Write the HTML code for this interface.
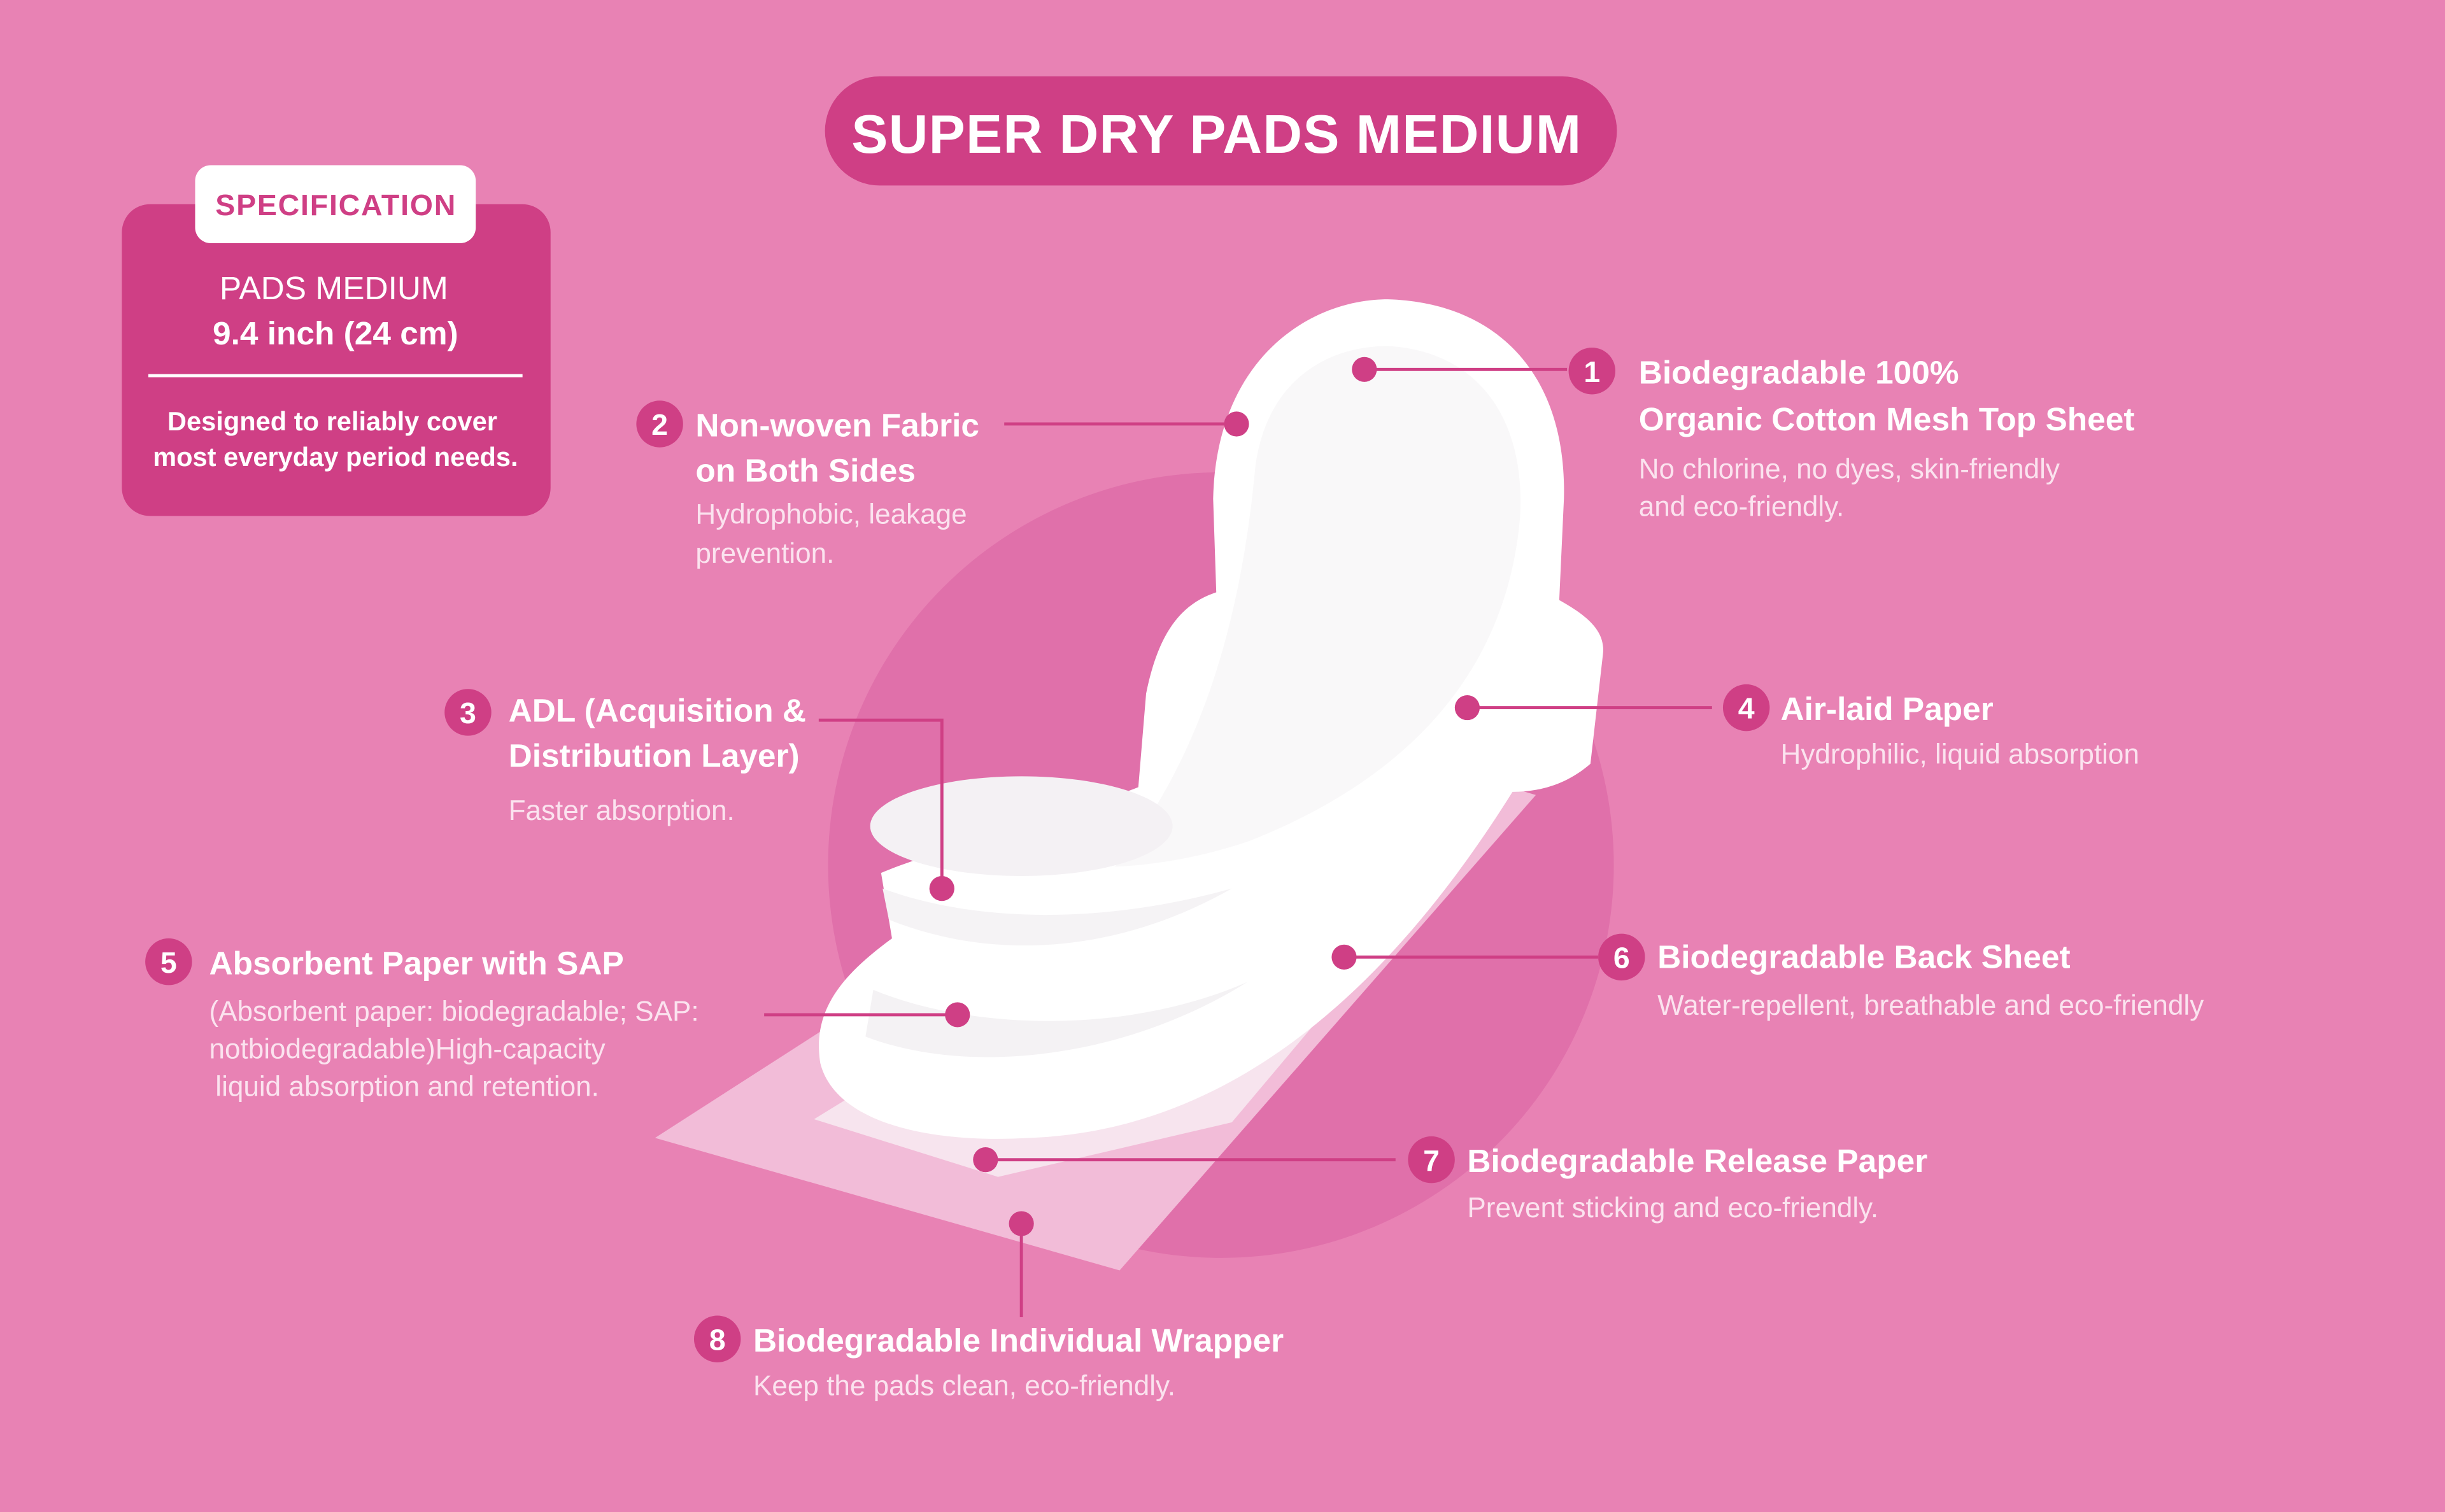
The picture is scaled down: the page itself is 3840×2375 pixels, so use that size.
<!DOCTYPE html>
<html><head><meta charset="utf-8"><style>
html,body{margin:0;padding:0;background:#e882b4;}
svg{display:block;}
text{font-family:"Liberation Sans",sans-serif;}
.h{font-weight:bold;fill:#fff;font-size:21px;}
.d{fill:#fbe3ef;font-size:18px;}
.n{font-weight:bold;fill:#fff;font-size:19px;text-anchor:middle;}
</style></head><body>
<svg width="3840" height="2375" viewBox="0 0 1568 970" xmlns="http://www.w3.org/2000/svg">
<rect width="1568" height="970" fill="#e882b4"/>
<circle cx="783" cy="555" r="252" fill="#e070aa"/>
<!-- title -->
<rect x="529" y="49" width="508" height="70" rx="35" fill="#cf3f85"/>
<text x="780" y="98" text-anchor="middle" font-weight="bold" font-size="35" fill="#fff" textLength="468">SUPER DRY PADS MEDIUM</text>
<!-- spec box -->
<rect x="78" y="131" width="275" height="200" rx="18" fill="#cf3f85"/>
<rect x="125" y="106" width="180" height="50" rx="10" fill="#fff"/>
<text x="215" y="138" text-anchor="middle" font-weight="bold" font-size="19" fill="#cf3f85" textLength="154">SPECIFICATION</text>
<text x="214" y="192" text-anchor="middle" font-size="21" fill="#fff">PADS MEDIUM</text>
<text x="215" y="221" text-anchor="middle" font-size="21" fill="#fff" font-weight="bold">9.4 inch (24 cm)</text>
<rect x="95" y="240" width="240" height="2" fill="#fff"/>
<text x="213" y="276" text-anchor="middle" font-size="17" fill="#fff" font-weight="bold">Designed to reliably cover</text>
<text x="215" y="299" text-anchor="middle" font-size="17" fill="#fff" font-weight="bold">most everyday period needs.</text>
<!-- wrapper -->
<path d="M420,730 L560,640 L760,560 L968,505 L985,510 L718,815 Z" fill="#f2bcd8"/>
<path d="M522,718 L600,670 L880,560 L950,515 L965,512 L790,720 L640,755 Z" fill="#f7e4ee"/>
<!-- pad -->
<path d="M778,320 C780,230 840,192 890,192 C960,194 1005,240 1003,320 L1000,385 C1018,395 1030,405 1028,420 L1020,490 C1005,503 988,508 970,508 C900,620 800,725 660,730 C590,734 535,718 526,682 C520,645 545,622 572,602 L565,560 C600,545 680,525 730,505 L735,445 C742,410 755,388 780,380 Z" fill="#ffffff"/>
<path d="M805,300 C812,245 850,222 890,222 C945,225 978,265 975,330 C968,420 915,495 800,540 C770,550 740,555 715,556 C750,510 792,440 805,300 Z" fill="#f9f8f9"/>
<ellipse cx="655" cy="530" rx="97" ry="32" fill="#f4f1f4"/>
<path d="M566,570 C620,590 700,595 790,570 C720,610 640,618 570,590 Z" fill="#f5f3f5"/>
<path d="M560,635 C620,660 720,665 800,630 C720,680 620,690 555,665 Z" fill="#f4f2f4"/>
<!-- connectors -->
<g stroke="#cf3f85" stroke-width="2" fill="none">
<path d="M875,237 H1005"/><path d="M644,272 H793"/><path d="M525,462 H604 V570"/>
<path d="M941,454 H1098"/><path d="M490,651 H614"/><path d="M862,614 H1025"/>
<path d="M632,744 H895"/><path d="M655,785 V845"/>
</g>
<g fill="#cf3f85">
<circle cx="875" cy="237" r="8"/><circle cx="793" cy="272" r="8"/><circle cx="604" cy="570" r="8"/>
<circle cx="941" cy="454" r="8"/><circle cx="614" cy="651" r="8"/><circle cx="862" cy="614" r="8"/>
<circle cx="632" cy="744" r="8"/><circle cx="655" cy="785" r="8"/>
<circle cx="1021" cy="238" r="15"/><circle cx="423" cy="272" r="15"/><circle cx="300" cy="457" r="15"/>
<circle cx="1120" cy="454" r="15"/><circle cx="108" cy="617" r="15"/><circle cx="1040" cy="614" r="15"/>
<circle cx="918" cy="744" r="15"/><circle cx="460" cy="859" r="15"/>
</g>
<text class="n" x="1021" y="245">1</text><text class="n" x="423" y="279">2</text><text class="n" x="300" y="464">3</text>
<text class="n" x="1120" y="461">4</text><text class="n" x="108" y="624">5</text><text class="n" x="1040" y="621">6</text>
<text class="n" x="918" y="751">7</text><text class="n" x="460" y="866">8</text>
<!-- labels -->
<text class="h" x="1051" y="246">Biodegradable 100%</text>
<text class="h" x="1051" y="276">Organic Cotton Mesh Top Sheet</text>
<text class="d" x="1051" y="307">No chlorine, no dyes, skin-friendly</text>
<text class="d" x="1051" y="331">and eco-friendly.</text>
<text class="h" x="446" y="280">Non-woven Fabric</text>
<text class="h" x="446" y="309">on Both Sides</text>
<text class="d" x="446" y="336">Hydrophobic, leakage</text>
<text class="d" x="446" y="361">prevention.</text>
<text class="h" x="326" y="463">ADL (Acquisition &amp;</text>
<text class="h" x="326" y="492">Distribution Layer)</text>
<text class="d" x="326" y="526">Faster absorption.</text>
<text class="h" x="1142" y="462">Air-laid Paper</text>
<text class="d" x="1142" y="490">Hydrophilic, liquid absorption</text>
<text class="h" x="134" y="625">Absorbent Paper with SAP</text>
<text class="d" x="134" y="655">(Absorbent paper: biodegradable; SAP:</text>
<text class="d" x="134" y="679">notbiodegradable)High-capacity</text>
<text class="d" x="138" y="703">liquid absorption and retention.</text>
<text class="h" x="1063" y="621">Biodegradable Back Sheet</text>
<text class="d" x="1063" y="651">Water-repellent, breathable and eco-friendly</text>
<text class="h" x="941" y="752">Biodegradable Release Paper</text>
<text class="d" x="941" y="781">Prevent sticking and eco-friendly.</text>
<text class="h" x="483" y="867">Biodegradable Individual Wrapper</text>
<text class="d" x="483" y="895">Keep the pads clean, eco-friendly.</text>
</svg>
</body></html>
